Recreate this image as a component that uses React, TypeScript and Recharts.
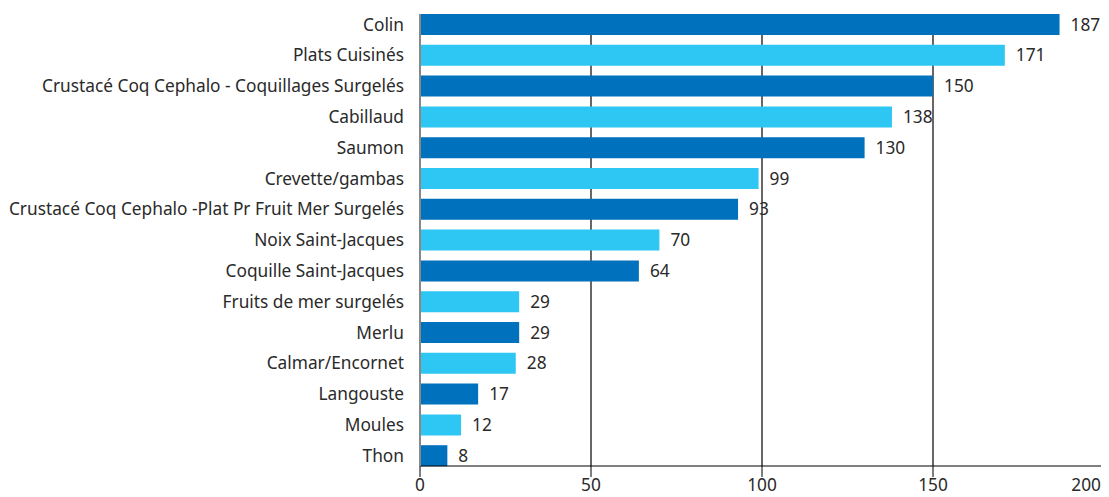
import { BarChart, Bar, XAxis, YAxis, CartesianGrid, Cell, LabelList, ReferenceLine } from "recharts";

const categories = [
  "Colin",
  "Plats Cuisinés",
  "Crustacé Coq Cephalo - Coquillages Surgelés",
  "Cabillaud",
  "Saumon",
  "Crevette/gambas",
  "Crustacé Coq Cephalo -Plat Pr Fruit Mer Surgelés",
  "Noix Saint-Jacques",
  "Coquille Saint-Jacques",
  "Fruits de mer surgelés",
  "Merlu",
  "Calmar/Encornet",
  "Langouste",
  "Moules",
  "Thon",
];
const values = [187, 171, 150, 138, 130, 99, 93, 70, 64, 29, 29, 28, 17, 12, 8];
const xTicks = [0, 50, 100, 150, 200];

const DARK = "#0071bc";
const LIGHT = "#2ec6f3";
const FONT = "'Noto Sans', sans-serif";
const TEXT = "#2a2a2a";
const FS = 17.3;

const data = categories.map((name, i) => ({ name, value: values[i] }));

// last tick label sits left of its line so it stays inside the frame
function XTick(props: any) {
  const { x, y, payload } = props;
  const last = payload.value === xTicks[xTicks.length - 1];
  return (
    <text
      x={last ? x + 4 : x}
      y={y}
      dy="0.71em"
      textAnchor={last ? "end" : "middle"}
      fontSize={FS}
      fill={TEXT}
    >
      {payload.value}
    </text>
  );
}

export default function App() {
  return (
    <BarChart
      width={1101}
      height={489}
      data={data}
      layout="vertical"
      margin={{ top: 6, right: 5, left: 0, bottom: 0 }}
      style={{ fontFamily: FONT }}
    >
      <CartesianGrid horizontal={false} stroke="#000" strokeWidth={1.2} />
      <XAxis
        type="number"
        domain={[0, 200]}
        ticks={xTicks}
        axisLine={{ stroke: "#000", strokeWidth: 1.2 }}
        tickLine={{ stroke: "#000" }}
        tickSize={11}
        tickMargin={2}
        height={31}
        tick={<XTick />}
      />
      <YAxis
        type="category"
        dataKey="name"
        width={412}
        axisLine={{ stroke: "#888", strokeWidth: 2 }}
        tickLine={false}
        tickSize={0}
        tickMargin={16}
        interval={0}
        padding={{ top: -5, bottom: -5 }}
        tick={{ fontSize: FS, fill: TEXT }}
      />
      <ReferenceLine x={200} stroke="#888" strokeWidth={2} />
      <Bar dataKey="value" barSize={21} isAnimationActive={false}>
        {data.map((_, i) => (
          <Cell key={i} fill={i % 2 === 0 ? DARK : LIGHT} />
        ))}
        <LabelList dataKey="value" position="right" offset={11} style={{ fontSize: FS, fill: TEXT }} />
      </Bar>
    </BarChart>
  );
}
